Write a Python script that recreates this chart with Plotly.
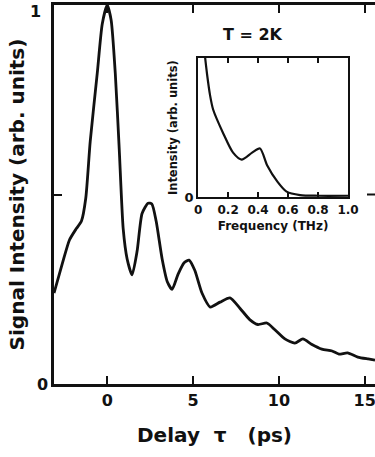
import plotly.graph_objects as go

# Main trace: delay (ps) vs signal intensity (arb. units)
delay = [-3.1, -2.6, -2.2, -1.8, -1.5, -1.25, -0.99, -0.58, -0.29, 0.0, 0.23, 0.47, 0.70, 0.93,
         1.16, 1.45, 1.74, 2.03, 2.38, 2.6, 2.85, 3.2, 3.5, 3.78, 4.13, 4.48, 4.77, 5.1, 5.52, 6.0,
         6.57, 7.15, 7.73, 8.3, 8.78, 9.3, 9.77, 10.35, 10.93, 11.4, 11.9, 12.5, 13.1, 13.5, 14.0,
         14.6, 15.2, 15.6]
signal = [0.24, 0.32, 0.38, 0.41, 0.43, 0.49, 0.64, 0.82, 0.95, 1.0, 0.96, 0.82, 0.62, 0.41,
          0.33, 0.288, 0.35, 0.45, 0.477, 0.475, 0.43, 0.33, 0.27, 0.25, 0.29, 0.32, 0.327, 0.30, 0.24, 0.203,
          0.216, 0.227, 0.20, 0.17, 0.157, 0.161, 0.143, 0.119, 0.108, 0.119, 0.105, 0.092, 0.087, 0.079, 0.082,
          0.071, 0.066, 0.063]

# Inset: frequency (THz) vs intensity (arb. units)
freq = [0.03, 0.047, 0.06, 0.08, 0.10, 0.167, 0.233, 0.29, 0.36, 0.413, 0.46, 0.53, 0.59, 0.68, 0.8, 1.0]
inten = [1.2, 1.0, 0.88, 0.73, 0.63, 0.46, 0.32, 0.27, 0.32, 0.35, 0.23, 0.11, 0.04, 0.015, 0.01, 0.01]

main_xticks = [0, 5, 10, 15]
main_yticks = [0, 0.5, 1]
main_yticklabels = ["0", "", ""]
inset_xticks = [0, 0.2, 0.4, 0.6, 0.8, 1.0]
inset_xticklabels = ["0", "0.2", "0.4", "0.6", "0.8", "1.0"]

FONT = "DejaVu Sans"
ink = "#111111"

fig = go.Figure()
fig.add_trace(go.Scatter(x=delay, y=signal, mode="lines", line=dict(color=ink, width=2.8, shape="spline", smoothing=0.6),
                         xaxis="x", yaxis="y", showlegend=False, hoverinfo="skip"))
fig.add_trace(go.Scatter(x=freq, y=inten, mode="lines", line=dict(color=ink, width=2.2, shape="spline", smoothing=0.7),
                         xaxis="x2", yaxis="y2", showlegend=False, hoverinfo="skip", cliponaxis=True))

fig.update_layout(
    width=375, height=457,
    margin=dict(l=54, r=0, t=5, b=73, autoexpand=False),
    paper_bgcolor="white", plot_bgcolor="white",
    font=dict(family=FONT, color=ink),
    xaxis=dict(range=[-3.1, 15.6], domain=[0, 1], tickvals=main_xticks, ticks="inside", ticklen=8, tickwidth=2,
               tickcolor=ink, showline=True, linewidth=2.5, linecolor=ink, mirror="ticks", showgrid=False,
               zeroline=False, automargin=False, ticklabeloverflow="allow",
               tickfont=dict(size=16, family=FONT, weight="bold"),
               title=dict(text="Delay  τ   (ps)", font=dict(size=20, family=FONT, weight="bold"), standoff=20)),
    yaxis=dict(range=[0, 1], domain=[0, 1], tickvals=main_yticks, ticktext=main_yticklabels, ticks="inside",
               ticklen=8, tickwidth=2, tickcolor=ink, showline=True, linewidth=2.5, linecolor=ink, mirror=False,
               showgrid=False, zeroline=False, automargin=False, tickfont=dict(size=16, family=FONT, weight="bold"),
               title=dict(text="Signal Intensity (arb. units)", font=dict(size=20, family=FONT, weight="bold"),
                          standoff=7)),
    xaxis2=dict(range=[0, 1.0], domain=[0.449, 0.916], anchor="y2", tickvals=inset_xticks,
                ticktext=inset_xticklabels, ticks="inside", ticklen=5, tickwidth=1.8, tickcolor=ink, showline=True,
                linewidth=2.2, linecolor=ink, mirror="ticks", showgrid=False, zeroline=False, automargin=False,
                tickfont=dict(size=12, family=FONT, weight="bold"),
                title=dict(text="Frequency (THz)", font=dict(size=12, family=FONT, weight="bold"), standoff=6)),
    yaxis2=dict(range=[0, 1.0], domain=[0.493, 0.860], anchor="x2", tickvals=[0], ticktext=["0"], ticks="",
                showline=True, linewidth=2.2, linecolor=ink, mirror=True, showgrid=False, zeroline=False,
                automargin=False, tickfont=dict(size=13, family=FONT, weight="bold"),
                title=dict(text="Intensity (arb. units)", font=dict(size=11.5, family=FONT, weight="bold"), standoff=4)),
    annotations=[dict(text="T = 2K", x=0.62, y=0.921, xref="paper", yref="paper", xanchor="center",
                      yanchor="middle", showarrow=False, font=dict(size=16, family=FONT, weight="bold", color=ink)),
                 dict(text="1", x=-0.035, y=1.013, xref="paper", yref="paper", xanchor="right", yanchor="top",
                      showarrow=False, font=dict(size=16, family=FONT, weight="bold", color=ink))],
    shapes=[dict(type="line", xref="paper", yref="y", x0=1.0, x1=0.975, y0=0.5, y1=0.5,
                 line=dict(color=ink, width=2))],
)

fig.write_html("out.html")
